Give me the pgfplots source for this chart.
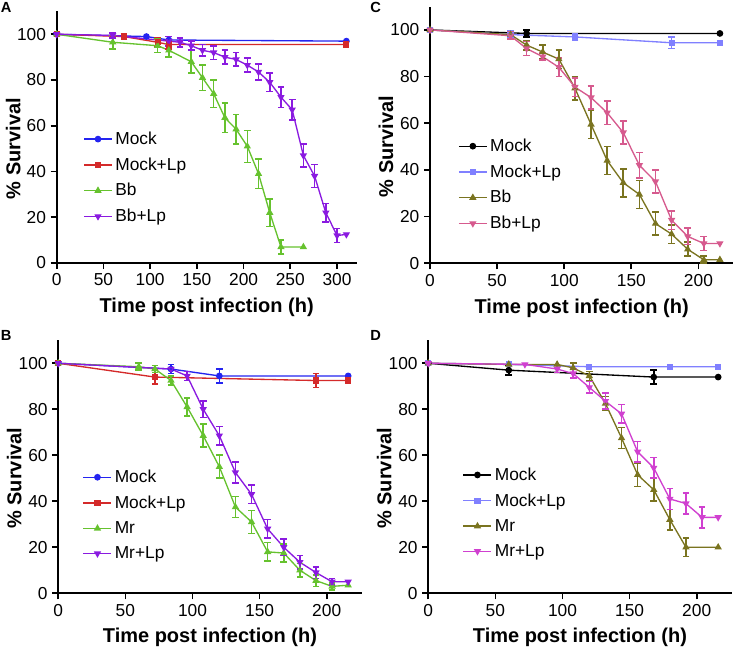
\documentclass[border=0pt]{standalone}
\usepackage{fontspec}
\setmainfont{Liberation Sans}
\usepackage{pgfplots}
\usepackage{pgfplotstable}
\pgfplotsset{compat=1.18}

\definecolor{cBlue}{HTML}{2424F0}
\definecolor{cRed}{HTML}{D42A2A}
\definecolor{cGreen}{HTML}{66C22E}
\definecolor{cPurple}{HTML}{8A1AE0}
\definecolor{cLBlue}{HTML}{8080FF}
\definecolor{cOlive}{HTML}{7A7420}
\definecolor{cPink}{HTML}{D65A8E}
\definecolor{cMag}{HTML}{D040D0}

% ---------- Panel A ----------
\pgfplotstableread{
x y e
0 100 0
96 99 0
120 97.5 1.5
310 97 0
}\AMock
\pgfplotstableread{
x y e
0 100 0
72 99 1
108 96.5 2
120 95.5 2
310 95.5 0
}\AMockLp
\pgfplotstableread{
x y e
0 100 0
60 96.5 3
108 95 3
120 93 3
144 88 5
156 81 5.5
168 74 6
180 63.5 6.5
192 58.5 6.5
204 51 7
216 39 6.5
228 22 6
240 7 3
264 7 0
}\ABb
\pgfplotstableread{
x y e
0 100 0
60 99.5 1
120 97 2
132 96.5 2
144 95 2
156 93 2.5
168 92 3
180 90 3
192 89 3
204 86.5 3
216 83.5 3.5
228 79 4
240 72.5 4.5
252 67 4.5
264 47 5
276 38 5
288 22 4
300 12 3
310 12.5 0
}\ABbLp
% ---------- Panel C ----------
\pgfplotstableread{
x y e
0 100 0
72 98.5 1.5
216 98.5 0
}\CMock
\pgfplotstableread{
x y e
0 100 0
60 98 1.5
108 97 1.5
180 94.5 2.5
216 94.5 0
}\CMockLp
\pgfplotstableread{
x y e
0 100 0
60 98 1
72 93.5 2
84 90.5 3
96 87.5 4
108 75 5
120 59.5 6
132 44 6
144 34.5 6
156 29.5 6
168 17 5
180 12.5 4
192 6 3
204 1.5 1.5
216 1.5 0
}\CBb
\pgfplotstableread{
x y e
0 100 0
60 97.5 1.5
72 92 3
84 88.5 1.5
96 84 4
108 75.5 4
120 71 5
132 64.5 5
144 56 5
156 42 5.5
168 35 5
180 18.5 4
192 11.5 3.5
204 8.5 3
216 8.5 0
}\CBbLp
% ---------- Panel B ----------
\pgfplotstableread{
x y e
0 100 0
84 97.5 2
120 94.5 3
216 94.5 0
}\BMock
\pgfplotstableread{
x y e
0 100 0
72 94 3
192 92.5 3
216 92.5 0
}\BMockLp
\pgfplotstableread{
x y e
0 100 0
60 98.5 1.5
72 97.5 1.5
84 92.5 2
96 81 4
108 68.5 5
120 55 5
132 37.5 4.5
144 31 5
156 18 4
168 17.5 4
180 10 3
192 5.5 2.5
204 3 1.5
216 3.5 0
}\BMr
\pgfplotstableread{
x y e
0 100 0
84 97.5 0
96 94.5 2
108 80 3.5
120 68.5 4
132 52.5 4.5
144 43 4
156 28 4
168 20 3.5
180 13.5 3
192 9 2.5
204 5 1.5
216 5 0
}\BMrLp
% ---------- Panel D ----------
\pgfplotstableread{
x y e
0 100 0
60 97 2
168 94 3
216 94 0
}\DMock
\pgfplotstableread{
x y e
0 100 0
60 99.5 0
120 98.5 0
180 98.5 0
216 98.5 0
}\DMockLp
\pgfplotstableread{
x y e
0 100 0
60 99.5 0
96 99.5 0
108 98 2
120 94.5 2
132 82.5 3
144 67.5 4.5
156 51.5 5
168 45 5
180 32 4.5
192 20 4
216 20 0
}\DMr
\pgfplotstableread{
x y e
0 100 0
72 99.5 0
96 97.5 1.5
108 95.5 2
120 89.5 2.5
132 83.5 3.5
144 78 4
156 61.5 4.5
168 54.5 4.5
180 41 4.5
192 39 4.5
204 33 4.5
216 33 0
}\DMrLp

\pgfplotsset{
  panel/.style={
    scale only axis,
    axis x line*=bottom, axis y line*=left,
    ymin=0, ymax=110, ytick={0,20,...,100}, xmin=0,
    tick align=outside, major tick length=4.5pt,
    every tick/.style={black, line width=1.3pt},
    axis line style={line width=1.3pt},
    tick label style={font=\fontsize{13}{15}\selectfont},
    /pgf/number format/assume math mode=true,
    xlabel={Time post infection (h)}, ylabel={\% Survival},
    label style={font=\bfseries\fontsize{15}{18}\selectfont},
    ylabel style={at={(axis description cs:-0.145,0.455)}, anchor=center},
    xlabel style={at={(axis description cs:0.5,-0.175)}, anchor=center},
    clip=false,
    legend style={draw=none, fill=none, font=\fontsize{13}{15}\selectfont,
      legend cell align=left, anchor=north west, inner sep=0pt,
      row sep=4.4pt},
    legend image code/.code={\draw[mark repeat=2,mark phase=2] plot coordinates {(0pt,0pt) (10.5pt,0pt) (21pt,0pt)};},
  },
  ln/.style={#1, line width=1pt, mark options={solid, fill=#1}},
  eb/.style={#1, line width=1.2pt, only marks, mark=*, mark size=0.01pt, forget plot,
    restrict expr to domain={\thisrow{e}}{0.01:1000},
    error bars/y dir=both, error bars/y explicit,
    error bars/error bar style={line width=1.2pt, #1},
    error bars/error mark=-,
    error bars/error mark options={rotate=90, line width=1.2pt, mark size=2.5pt, #1}},
  mcirc/.style={mark=*, mark size=2pt},
  msq/.style={mark=square*, mark size=1.8pt},
  mtri/.style={mark=triangle*, mark size=2.2pt},
  mtrd/.style={mark=triangle*, mark size=2.2pt, mark options={rotate=180}},
}

\begin{document}
\begin{tikzpicture}
\path[use as bounding box] (0,0) rectangle (552pt,488.25pt);

% Panel letters
\node[font=\bfseries\fontsize{11}{13}\selectfont, anchor=north west, inner sep=0pt] at (0.5pt,486.5pt) {A};
\node[font=\bfseries\fontsize{11}{13}\selectfont, anchor=north west, inner sep=0pt] at (277.5pt,486.5pt) {C};
\node[font=\bfseries\fontsize{11}{13}\selectfont, anchor=north west, inner sep=0pt] at (0.5pt,240.5pt) {B};
\node[font=\bfseries\fontsize{11}{13}\selectfont, anchor=north west, inner sep=0pt] at (277.5pt,240.5pt) {D};

% ===== A =====
\begin{axis}[panel, at={(42.5pt,291pt)}, anchor=south west,
  width=225pt, height=188.7pt, xmax=321, xtick={0,50,...,300},
  legend style={at={(axis description cs:0.088,0.533)}}]
\addplot[ln=cBlue, mcirc] table[x=x,y=y]{\AMock};
\addplot[ln=cRed, msq] table[x=x,y=y]{\AMockLp};
\addplot[ln=cGreen, mtri] table[x=x,y=y]{\ABb};
\addplot[ln=cPurple, mtrd] table[x=x,y=y]{\ABbLp};
\addplot[eb=cBlue] table[x=x,y=y,y error=e]{\AMock};
\addplot[eb=cRed] table[x=x,y=y,y error=e]{\AMockLp};
\addplot[eb=cGreen] table[x=x,y=y,y error=e]{\ABb};
\addplot[eb=cPurple] table[x=x,y=y,y error=e]{\ABbLp};
\legend{Mock, Mock+Lp, Bb, Bb+Lp}
\end{axis}

% ===== C =====
\begin{axis}[panel, at={(322.5pt,290.8pt)}, anchor=south west,
  width=227.5pt, height=192.5pt, xmax=226, xtick={0,50,...,200},
  legend style={at={(axis description cs:0.092,0.496)}}]
\addplot[ln=black, mcirc] table[x=x,y=y]{\CMock};
\addplot[ln=cLBlue, msq] table[x=x,y=y]{\CMockLp};
\addplot[ln=cOlive, mtri] table[x=x,y=y]{\CBb};
\addplot[ln=cPink, mtrd] table[x=x,y=y]{\CBbLp};
\addplot[eb=black] table[x=x,y=y,y error=e]{\CMock};
\addplot[eb=cLBlue] table[x=x,y=y,y error=e]{\CMockLp};
\addplot[eb=cOlive] table[x=x,y=y,y error=e]{\CBb};
\addplot[eb=cPink] table[x=x,y=y,y error=e]{\CBbLp};
\legend{Mock, Mock+Lp, Bb, Bb+Lp}
\end{axis}

% ===== B =====
\begin{axis}[panel, at={(43.7pt,43.3pt)}, anchor=south west,
  width=227.5pt, height=189.75pt, xmax=226, xtick={0,50,...,200},
  legend style={at={(axis description cs:0.080,0.499)}}]
\addplot[ln=cBlue, mcirc] table[x=x,y=y]{\BMock};
\addplot[ln=cRed, msq] table[x=x,y=y]{\BMockLp};
\addplot[ln=cGreen, mtri] table[x=x,y=y]{\BMr};
\addplot[ln=cPurple, mtrd] table[x=x,y=y]{\BMrLp};
\addplot[eb=cBlue] table[x=x,y=y,y error=e]{\BMock};
\addplot[eb=cRed] table[x=x,y=y,y error=e]{\BMockLp};
\addplot[eb=cGreen] table[x=x,y=y,y error=e]{\BMr};
\addplot[eb=cPurple] table[x=x,y=y,y error=e]{\BMrLp};
\legend{Mock, Mock+Lp, Mr, Mr+Lp}
\end{axis}

% ===== D =====
\begin{axis}[panel, at={(321.2pt,43.3pt)}, anchor=south west,
  width=227.5pt, height=189.75pt, xmax=226, xtick={0,50,...,200},
  legend style={at={(axis description cs:0.113,0.508)}}]
\addplot[ln=black, mcirc] table[x=x,y=y]{\DMock};
\addplot[ln=cLBlue, msq] table[x=x,y=y]{\DMockLp};
\addplot[ln=cOlive, mtri] table[x=x,y=y]{\DMr};
\addplot[ln=cMag, mtrd] table[x=x,y=y]{\DMrLp};
\addplot[eb=black] table[x=x,y=y,y error=e]{\DMock};
\addplot[eb=cLBlue] table[x=x,y=y,y error=e]{\DMockLp};
\addplot[eb=cOlive] table[x=x,y=y,y error=e]{\DMr};
\addplot[eb=cMag] table[x=x,y=y,y error=e]{\DMrLp};
\legend{Mock, Mock+Lp, Mr, Mr+Lp}
\end{axis}
\end{tikzpicture}
\end{document}
